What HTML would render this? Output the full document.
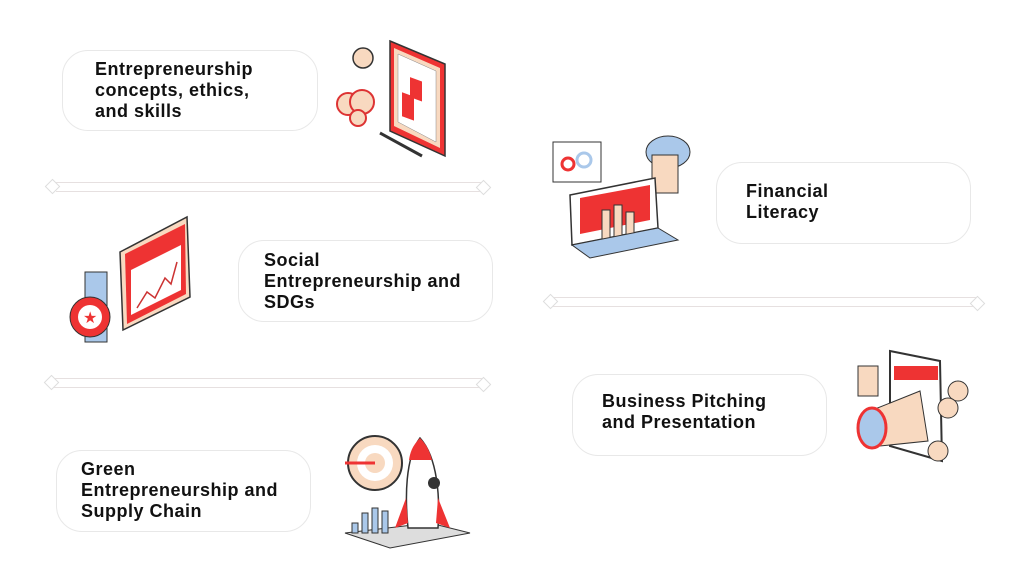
<!DOCTYPE html>
<html><head><meta charset="utf-8"><style>
html,body{margin:0;padding:0;background:#fff;}
body{width:1024px;height:568px;position:relative;overflow:hidden;font-family:"Liberation Sans",sans-serif;}
.box{position:absolute;border:1px solid #e8e8e8;border-radius:26px;box-sizing:border-box;background:#fff;}
.t{position:absolute;font-weight:bold;font-size:18px;line-height:21px;color:#111;letter-spacing:0.5px;}
.ln{position:absolute;height:8px;border:1px solid #e6e0e0;border-left:none;border-right:none;}
.dot{position:absolute;width:9px;height:9px;border:1px solid #ddd;transform:rotate(45deg);background:#fff;}
svg{position:absolute;}
</style></head><body>

<div class="box" style="left:62px;top:50px;width:256px;height:81px;"></div>
<div class="t" style="left:95px;top:59px;">Entrepreneurship<br>concepts, ethics,<br>and skills</div>

<div class="box" style="left:238px;top:240px;width:255px;height:82px;"></div>
<div class="t" style="left:264px;top:250px;">Social<br>Entrepreneurship and<br>SDGs</div>

<div class="box" style="left:56px;top:450px;width:255px;height:82px;"></div>
<div class="t" style="left:81px;top:459px;">Green<br>Entrepreneurship and<br>Supply Chain</div>

<div class="box" style="left:716px;top:162px;width:255px;height:82px;"></div>
<div class="t" style="left:746px;top:181px;">Financial<br>Literacy</div>

<div class="box" style="left:572px;top:374px;width:255px;height:82px;"></div>
<div class="t" style="left:602px;top:391px;">Business Pitching<br>and Presentation</div>

<div class="ln" style="left:56px;top:182px;width:428px;"></div>
<div class="dot" style="left:47px;top:181px;"></div><div class="dot" style="left:478px;top:182px;"></div>
<div class="ln" style="left:54px;top:378px;width:428px;"></div>
<div class="dot" style="left:46px;top:377px;"></div><div class="dot" style="left:478px;top:379px;"></div>
<div class="ln" style="left:552px;top:297px;width:424px;"></div>
<div class="dot" style="left:545px;top:296px;"></div><div class="dot" style="left:972px;top:298px;"></div>

<svg style="left:330px;top:36px" width="130" height="125" viewBox="0 0 130 125">
<circle cx="33" cy="22" r="10" fill="#f8d9c0" stroke="#333" stroke-width="1.5"/>
<circle cx="18" cy="68" r="11" fill="#f8d9c0" stroke="#d33" stroke-width="2"/>
<circle cx="32" cy="66" r="12" fill="#f8d9c0" stroke="#d33" stroke-width="2"/>
<circle cx="28" cy="82" r="8" fill="#f8d9c0" stroke="#d33" stroke-width="2"/>
<polygon points="60,5 115,28 115,120 60,95" fill="#e33" stroke="#333" stroke-width="1.5"/>
<polygon points="64,12 110,32 110,112 64,90" fill="#f8d9c0"/>
<polygon points="68,18 106,35 106,106 68,86" fill="#fff" stroke="#888" stroke-width=".5"/>
<rect x="80" y="40" width="12" height="20" fill="#e33" transform="skewY(20) translate(0,-28)"/>
<rect x="72" y="55" width="12" height="24" fill="#e33" transform="skewY(20) translate(0,-25)"/>
<line x1="50" y1="97" x2="92" y2="120" stroke="#333" stroke-width="3"/>
</svg>

<svg style="left:65px;top:212px" width="130" height="140" viewBox="0 0 130 140">
<polygon points="55,40 122,5 125,85 58,118" fill="#f8d9c0" stroke="#333" stroke-width="1.5"/>
<polygon points="60,42 120,12 121,82 62,112" fill="#e33"/>
<polygon points="66,58 116,33 116,78 66,103" fill="#fff"/>
<polyline points="72,96 82,80 90,86 100,66 106,72 112,50" fill="none" stroke="#c33" stroke-width="1.5"/>
<rect x="20" y="60" width="22" height="70" fill="#aac8ea" stroke="#333"/>
<circle cx="25" cy="105" r="20" fill="#e33" stroke="#333"/>
<circle cx="25" cy="105" r="12" fill="#fff"/>
<text x="18" y="111" font-size="16" fill="#e33">★</text>
</svg>

<svg style="left:340px;top:428px" width="140" height="125" viewBox="0 0 140 125">
<circle cx="35" cy="35" r="27" fill="#f8d9c0" stroke="#333" stroke-width="2"/>
<circle cx="35" cy="35" r="18" fill="#fff"/>
<circle cx="35" cy="35" r="10" fill="#f8d9c0"/>
<line x1="5" y1="35" x2="35" y2="35" stroke="#e33" stroke-width="3"/>
<polygon points="5,105 90,95 130,105 50,120" fill="#ddd" stroke="#333"/>
<rect x="12" y="95" width="6" height="10" fill="#aac8ea" stroke="#333"/>
<rect x="22" y="85" width="6" height="20" fill="#aac8ea" stroke="#333"/>
<rect x="32" y="80" width="6" height="25" fill="#aac8ea" stroke="#333"/>
<rect x="42" y="83" width="6" height="22" fill="#aac8ea" stroke="#333"/>
<path d="M80,10 C65,30 65,70 68,100 L98,100 C100,70 98,30 80,10Z" fill="#fff" stroke="#333" stroke-width="1.5"/>
<path d="M80,10 C72,18 70,25 69,32 L92,32 C90,25 88,18 80,10Z" fill="#e33"/>
<polygon points="66,70 55,100 68,95" fill="#e33"/><polygon points="98,70 110,100 96,95" fill="#e33"/>
<circle cx="94" cy="55" r="6" fill="#333"/>
</svg>

<svg style="left:550px;top:130px" width="145" height="130" viewBox="0 0 145 130">
<rect x="3" y="12" width="48" height="40" fill="#fff" stroke="#333"/>
<circle cx="18" cy="34" r="6" fill="none" stroke="#e33" stroke-width="3"/>
<circle cx="34" cy="30" r="7" fill="none" stroke="#aac8ea" stroke-width="3"/>
<ellipse cx="118" cy="22" rx="22" ry="16" fill="#aac8ea" stroke="#333"/>
<rect x="102" y="25" width="26" height="38" fill="#f8d9c0" stroke="#333"/>
<polygon points="20,65 105,48 108,98 22,115" fill="#fff" stroke="#333" stroke-width="1.5"/>
<polygon points="30,68 100,55 100,90 30,104" fill="#e33"/>
<rect x="52" y="80" width="8" height="30" fill="#f8d9c0" stroke="#333"/>
<rect x="64" y="75" width="8" height="32" fill="#f8d9c0" stroke="#333"/>
<rect x="76" y="82" width="8" height="24" fill="#f8d9c0" stroke="#333"/>
<polygon points="22,115 108,98 128,110 40,128" fill="#aac8ea" stroke="#333"/>
</svg>

<svg style="left:850px;top:346px" width="120" height="120" viewBox="0 0 120 120">
<rect x="8" y="20" width="20" height="30" fill="#f8d9c0" stroke="#333"/>
<polygon points="40,5 90,15 92,115 40,100" fill="#fff" stroke="#333" stroke-width="2"/>
<rect x="44" y="20" width="44" height="14" fill="#e33"/>
<circle cx="108" cy="45" r="10" fill="#f8d9c0" stroke="#333"/>
<circle cx="98" cy="62" r="10" fill="#f8d9c0" stroke="#333"/>
<circle cx="88" cy="105" r="10" fill="#f8d9c0" stroke="#333"/>
<polygon points="20,65 70,45 78,95 30,100" fill="#f8d9c0" stroke="#333"/>
<ellipse cx="22" cy="82" rx="14" ry="20" fill="#aac8ea" stroke="#e33" stroke-width="3"/>
</svg>

</body></html>
